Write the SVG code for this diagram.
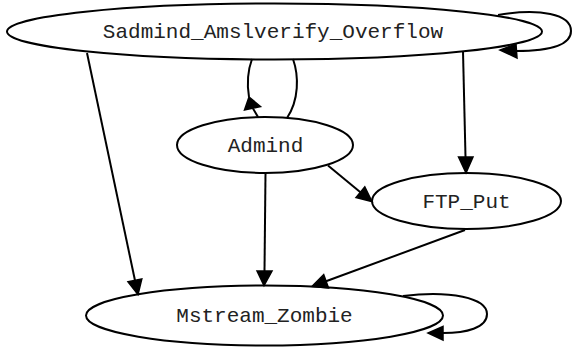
<svg xmlns="http://www.w3.org/2000/svg" width="572" height="347" viewBox="0 0 572 347">
  <style>
    .node ellipse { fill: none; stroke: #000; stroke-width: 2; }
    .node text { font-family: "Liberation Mono", "Courier New", monospace; font-size: 21px; fill: #222; text-anchor: middle; }
    .edge path, .edge line { fill: none; stroke: #000; stroke-width: 2; }
    .edge polygon { fill: #000; stroke: #000; stroke-width: 1.5; stroke-linejoin: miter; }
  </style>
  <rect width="572" height="347" fill="#fff"/>

  <g id="edges">
    <!-- Sadmind_Amslverify_Overflow self-loop -->
    <g class="edge" id="e_sadmind_self">
      <path d="M 498,15 C 540,8 571,14 571,31 C 571,46 548,51 516,51"/>
      <polygon points="516,44 500,50 517,58"/>
    </g>
    <!-- Admind -> Sadmind_Amslverify_Overflow (double arc) -->
    <g class="edge" id="e_admind_sadmind">
      <path d="M 293,59 C 299,76 299,100 287,118"/>
      <path d="M 252,59 C 248,70 247,85 249,97"/>
      <line x1="253" y1="108.5" x2="258" y2="117"/>
      <polygon points="249,97 244.5,110 260.5,106.5"/>
    </g>
    <!-- Sadmind_Amslverify_Overflow -> Mstream_Zombie -->
    <g class="edge" id="e_sadmind_mstream">
      <line x1="87" y1="53" x2="135" y2="280.5"/>
      <polygon points="128,281.7 138,294.5 141.8,278.9"/>
    </g>
    <!-- Sadmind_Amslverify_Overflow -> FTP_Put -->
    <g class="edge" id="e_sadmind_ftp">
      <line x1="463" y1="51.5" x2="465.5" y2="157"/>
      <polygon points="458.5,157 466,173 473,157"/>
    </g>
    <!-- Admind -> FTP_Put -->
    <g class="edge" id="e_admind_ftp">
      <line x1="328" y1="165.5" x2="360.4" y2="192.2"/>
      <polygon points="356,197.6 372,201.7 364.8,186.8"/>
    </g>
    <!-- Admind -> Mstream_Zombie -->
    <g class="edge" id="e_admind_mstream">
      <line x1="265.5" y1="173" x2="264.5" y2="271"/>
      <polygon points="257,271 264,285.5 272,271"/>
    </g>
    <!-- FTP_Put -> Mstream_Zombie -->
    <g class="edge" id="e_ftp_mstream">
      <line x1="465" y1="230" x2="326" y2="281.3"/>
      <polygon points="328.5,287.9 312,286.5 323.7,274.7"/>
    </g>
    <!-- Mstream_Zombie self-loop -->
    <g class="edge" id="e_mstream_self">
      <path d="M 403,296 C 450,290 487,298 487,314 C 487,328 466,333 443,333"/>
      <polygon points="443,326.5 428,333 443,340"/>
    </g>
  </g>

  <g class="node" id="n_sadmind">
    <ellipse cx="274.5" cy="31.5" rx="267.5" ry="28"/>
    <text x="273" y="38">Sadmind_Amslverify_Overflow</text>
  </g>
  <g class="node" id="n_admind">
    <ellipse cx="265" cy="145" rx="88" ry="28"/>
    <text x="265.5" y="151.5">Admind</text>
  </g>
  <g class="node" id="n_ftp_put">
    <ellipse cx="466.5" cy="201" rx="94.5" ry="28"/>
    <text x="466.5" y="207.5">FTP_Put</text>
  </g>
  <g class="node" id="n_mstream">
    <ellipse cx="264.5" cy="315.5" rx="178.5" ry="30"/>
    <text x="264.5" y="322">Mstream_Zombie</text>
  </g>
</svg>
